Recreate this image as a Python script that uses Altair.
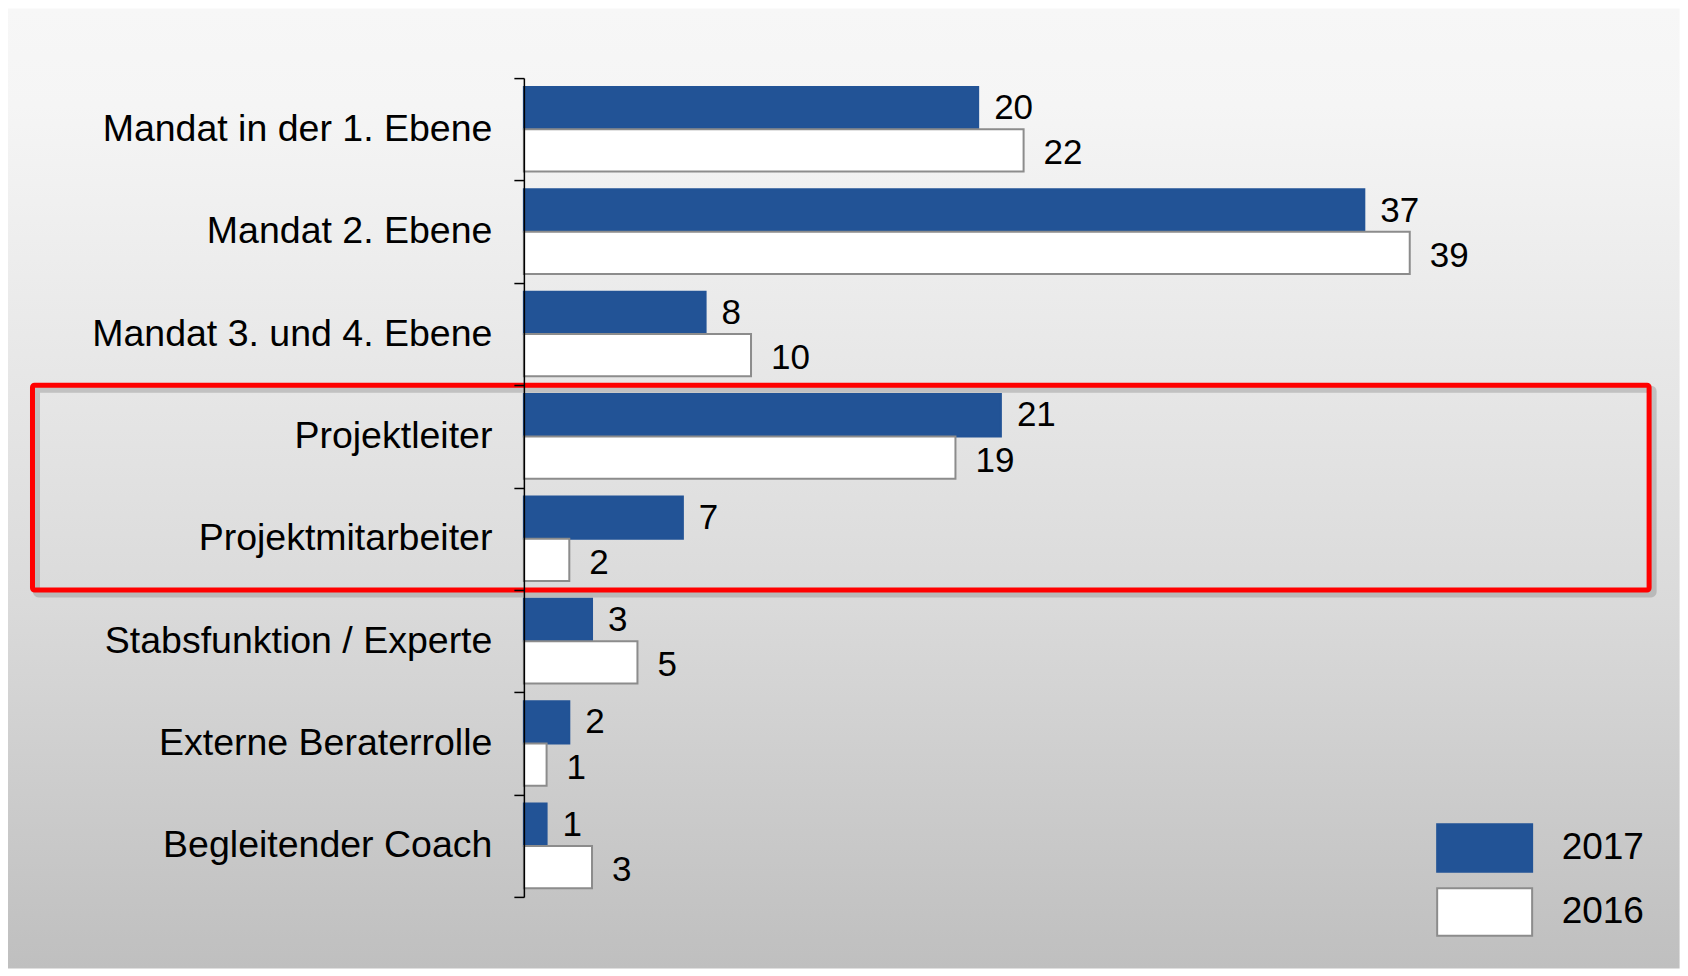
import altair as alt
import pandas as pd

categories = [
    "Mandat in der 1. Ebene",
    "Mandat 2. Ebene",
    "Mandat 3. und 4. Ebene",
    "Projektleiter",
    "Projektmitarbeiter",
    "Stabsfunktion / Experte",
    "Externe Beraterrolle",
    "Begleitender Coach",
]
values_2017 = [20, 37, 8, 21, 7, 3, 2, 1]
values_2016 = [22, 39, 10, 19, 2, 5, 1, 3]
years = ["2017", "2016"]

rows = []
for c, a, b in zip(categories, values_2017, values_2016):
    rows.append({"cat": c, "year": "2017", "val": a})
    rows.append({"cat": c, "year": "2016", "val": b})
df = pd.DataFrame(rows)

FONT = "Liberation Sans"
STEP = 102.4
H = STEP * len(categories)
XMAX = 45
W = 22.72 * XMAX
BLUE = "#225396"
GREY = "#8c8c8c"

# plot origin on the page: (524, 77.5); page margin 8
OX, OY = 524, 77.5

y_enc = alt.Y(
    "cat:N",
    sort=categories,
    scale=alt.Scale(paddingInner=0, paddingOuter=0),
    axis=alt.Axis(
        title=None,
        tickBand="extent",
        tickSize=10,
        tickColor="black",
        tickWidth=1.5,
        domainColor="black",
        domainWidth=1.5,
        labelFont=FONT,
        labelFontSize=37.5,
        labelColor="black",
        labelPadding=22,
        labelLimit=600,
        zindex=2,
    ),
)
yoff = alt.YOffset(
    "year:N",
    sort=years,
    scale=alt.Scale(paddingInner=0, paddingOuter=0.21),
)
x_enc = alt.X("val:Q", scale=alt.Scale(domain=[0, XMAX], nice=False), axis=None)

bg = alt.Chart(pd.DataFrame({"a": [0]})).mark_rect(
    fill=alt.Gradient(
        gradient="linear",
        stops=[
            alt.GradientStop(offset=0, color="#f7f7f7"),
            alt.GradientStop(offset=0.1, color="#f5f5f5"),
            alt.GradientStop(offset=0.4, color="#e6e6e6"),
            alt.GradientStop(offset=0.62, color="#dadada"),
            alt.GradientStop(offset=1, color="#bfbfbf"),
        ],
        x1=0, x2=0, y1=0, y2=1,
    ),
    stroke=None,
).encode(
    x=alt.value(8 - OX),
    x2=alt.value(1680 - OX),
    y=alt.value(8 - OY),
    y2=alt.value(968 - OY),
)

bars = alt.Chart(df).mark_bar(strokeWidth=2).encode(
    x=x_enc,
    y=y_enc,
    yOffset=yoff,
    fill=alt.Fill(
        "year:N",
        sort=years,
        scale=alt.Scale(domain=years, range=[BLUE, "#ffffff"]),
        legend=alt.Legend(
            title=None,
            orient="none",
            legendX=936,
            legendY=745,
            symbolType="M-2,-1H2V1H-2Z",
            symbolSize=2256,
            symbolStrokeWidth=2,
            labelFont=FONT,
            labelFontSize=37,
            labelColor="black",
            labelOffset=52,
            rowPadding=8,
            padding=0,
        ),
    ),
    stroke=alt.Stroke(
        "year:N",
        sort=years,
        scale=alt.Scale(domain=years, range=[BLUE, GREY]),
        legend=None,
    ),
)

labels17 = alt.Chart(df).transform_filter(alt.datum.year == "2017").mark_text(
    align="left", baseline="middle", dx=16, font=FONT, fontSize=35, color="black"
).encode(
    x=x_enc,
    y=alt.Y("cat:N", sort=categories),
    yOffset=alt.YOffset("year:N", sort=years),
    text="val:Q",
)
labels16 = alt.Chart(df).transform_filter(alt.datum.year == "2016").mark_text(
    align="left", baseline="middle", dx=20, dy=3, font=FONT, fontSize=35, color="black"
).encode(
    x=x_enc,
    y=alt.Y("cat:N", sort=categories),
    yOffset=alt.YOffset("year:N", sort=years),
    text="val:Q",
)

box_df = pd.DataFrame({"a": [0]})
box_shadow = alt.Chart(box_df).mark_rect(
    fill=None, stroke="#7a7a7a", strokeOpacity=0.35, strokeWidth=7, cornerRadius=2
).encode(
    x=alt.value(-491.5 + 4),
    x2=alt.value(1125.5 + 4),
    y=alt.value(3 * STEP + 4),
    y2=alt.value(5 * STEP + 4),
)
box = alt.Chart(box_df).mark_rect(
    fill=None, stroke="#ff0000", strokeWidth=5, cornerRadius=2
).encode(
    x=alt.value(-491.5),
    x2=alt.value(1125.5),
    y=alt.value(3 * STEP),
    y2=alt.value(5 * STEP),
)

chart = alt.layer(bg, bars, labels17, labels16, box_shadow, box).properties(
    width=W, height=H, padding=0
).configure_view(stroke=None).configure_axis(grid=False)

chart.save("out.html", embed_options={"renderer": "svg", "actions": False})
